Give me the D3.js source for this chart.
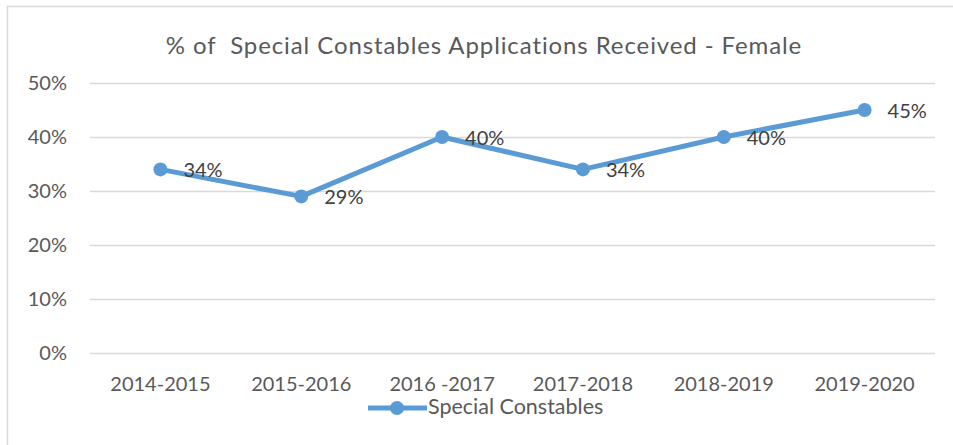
<!DOCTYPE html>
<meta charset="utf-8"/>
<html>
<head>
<script src="https://d3js.org/d3.v7.min.js"></script>
<style>
  * { margin: 0; padding: 0; }
  body { background: #fff; }
  text { font-family: Lato, "Open Sans", Arial, sans-serif; }
</style>
</head>
<body>
<div id="chart"></div>
<script>
// data
var years = ["2014-2015", "2015-2016", "2016 -2017", "2017-2018", "2018-2019", "2019-2020"];
var values = [34, 29, 40, 34, 40, 45];
var yTicks = [0, 10, 20, 30, 40, 50];
var seriesName = "Special Constables";
var title = "% of  Special Constables Applications Received - Female";

var width = 953, height = 445;
var plot = {left: 90, right: 935, top: 83, bottom: 353};
var blue = "#5b9bd5";
var font = "Lato, 'Open Sans', Arial, sans-serif";

var svg = d3.select("#chart").append("svg")
    .attr("width", width)
    .attr("height", height);

// chart area border (only top and left visible in reference)
svg.append("path")
    .attr("d", "M7.5,445 L7.5,6.5 L953,6.5")
    .attr("fill", "none")
    .attr("stroke", "#d9d9d9")
    .attr("stroke-width", 1.5);

svg.append("text")
    .attr("x", 484)
    .attr("y", 54)
    .attr("text-anchor", "middle")
    .attr("fill", "#595959")
    .style("font-size", "24px")
    .style("letter-spacing", "0.9px")
    .style("white-space", "pre")
    .text(title);

var x = d3.scaleBand().domain(years).range([plot.left, plot.right]);
var y = d3.scaleLinear().domain([0, 50]).range([plot.bottom, plot.top]);

// gridlines
svg.append("g").selectAll("line")
    .data(yTicks)
    .join("line")
    .attr("x1", plot.left).attr("x2", plot.right)
    .attr("y1", d => Math.round(y(d)) + 0.5)
    .attr("y2", d => Math.round(y(d)) + 0.5)
    .attr("stroke", "#d9d9d9")
    .attr("stroke-width", 1.5);

// y axis labels
var yAxis = d3.axisLeft(y).tickValues(yTicks).tickSize(0).tickPadding(0)
    .tickFormat(d => d + "%");
svg.append("g")
    .attr("transform", "translate(67,0)")
    .call(yAxis)
    .call(g => g.select(".domain").remove())
    .call(g => g.selectAll("text")
        .attr("fill", "#595959")
        .style("font-size", "20px")
        .style("font-family", font));

// x axis labels
var xAxis = d3.axisBottom(x).tickSize(0).tickPadding(0);
svg.append("g")
    .attr("transform", "translate(0,377)")
    .call(xAxis)
    .call(g => g.select(".domain").remove())
    .call(g => g.selectAll("text")
        .attr("fill", "#595959")
        .style("font-size", "20px")
        .style("font-family", font));

var cx = d => x(d) + x.bandwidth() / 2;

var line = d3.line()
    .x((d, i) => cx(years[i]))
    .y(d => y(d));

svg.append("path")
    .datum(values)
    .attr("d", line)
    .attr("fill", "none")
    .attr("stroke", blue)
    .attr("stroke-width", 5)
    .attr("stroke-linejoin", "round");

svg.append("g").selectAll("circle")
    .data(values)
    .join("circle")
    .attr("cx", (d, i) => cx(years[i]))
    .attr("cy", d => y(d))
    .attr("r", 7)
    .attr("fill", blue);

// data labels
svg.append("g").selectAll("text")
    .data(values)
    .join("text")
    .attr("x", (d, i) => cx(years[i]) + 23)
    .attr("y", d => y(d) + 7.5)
    .attr("fill", "#404040")
    .style("font-size", "20px")
    .text(d => d + "%");

// legend
var lg = svg.append("g").attr("transform", "translate(0,408)");
lg.append("line")
    .attr("x1", 368).attr("x2", 427)
    .attr("y1", 0).attr("y2", 0)
    .attr("stroke", blue)
    .attr("stroke-width", 5);
lg.append("circle")
    .attr("cx", 397).attr("cy", 0).attr("r", 7)
    .attr("fill", blue);
lg.append("text")
    .attr("x", 428)
    .attr("y", 6)
    .attr("fill", "#595959")
    .style("font-size", "21.5px")
    .text(seriesName);
</script>
</body>
</html>
